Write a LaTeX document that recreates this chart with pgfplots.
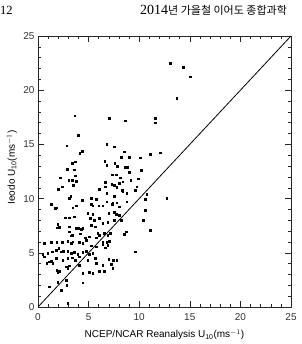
\documentclass[border=0pt]{standalone}
\usepackage{pgfplots}
\pgfplotsset{compat=1.18}
\usepackage{fontspec}
\setmainfont{Liberation Sans}
\newfontfamily\serifhdr{Liberation Serif}
\newfontfamily\kr{Noto Sans CJK KR}
\pgfplotstableread{
x y
3.62 17.65
3.95 15.87
2.83 14.88
6.79 15.02
4.12 14.18
4.38 14.39
3.69 13.41
3.39 13.25
6.59 13.48
13.04 22.48
14.36 22.11
15.02 21.25
13.70 19.25
7.05 17.41
8.60 17.19
11.59 17.41
11.59 17.00
7.51 14.79
8.50 14.33
11.07 14.12
12.06 14.24
8.20 13.80
6.79 13.10
7.58 13.25
9.02 13.80
10.08 13.78
7.84 13.00
9.02 12.42
6.79 10.49
7.30 12.20
7.70 12.20
8.63 12.88
8.83 12.88
10.21 12.64
8.10 11.93
6.65 11.52
7.28 11.34
7.51 11.25
8.04 11.40
8.37 11.56
9.16 11.71
9.91 11.83
6.62 11.10
7.77 11.04
8.30 10.79
9.75 11.10
8.37 10.63
8.76 10.48
9.58 10.79
10.74 10.42
7.54 10.20
12.71 10.03
10.57 9.93
6.79 9.71
7.38 9.56
7.77 9.62
8.76 9.72
10.60 8.95
10.41 8.03
11.07 7.10
9.62 5.10
2.87 12.73
3.59 12.67
2.17 11.93
3.03 11.72
3.36 11.72
3.66 12.12
3.75 11.62
1.98 10.89
2.37 11.10
3.49 11.26
3.06 10.03
3.23 10.24
1.28 9.47
1.68 9.10
1.84 9.16
3.43 9.16
3.75 9.35
4.35 9.87
2.70 8.24
3.10 8.24
3.59 8.33
1.94 7.63
1.88 7.32
2.10 7.38
3.10 7.41
3.75 7.26
4.02 7.26
4.25 7.20
4.41 7.26
3.10 6.95
3.36 6.64
4.18 6.76
4.68 6.40
3.23 6.58
0.63 5.87
1.28 5.97
1.84 5.97
2.37 5.97
2.93 6.09
3.26 5.87
3.43 6.03
4.08 5.97
4.41 5.87
4.74 6.17
0.46 4.86
0.96 4.95
1.38 5.10
1.78 5.26
2.04 5.41
2.27 5.10
2.50 5.17
2.93 5.17
3.26 4.95
3.59 5.04
3.92 4.86
4.41 5.04
4.74 5.17
0.63 4.64
1.12 4.18
1.28 4.24
0.86 4.03
1.45 4.03
1.78 4.49
2.44 4.33
2.93 4.49
3.36 4.55
3.69 4.33
4.08 4.64
1.84 3.41
1.94 3.20
2.10 3.32
2.77 3.72
2.93 3.56
3.10 3.81
4.08 3.87
4.41 3.10
1.12 1.87
1.94 2.27
2.77 2.48
2.83 2.03
2.31 1.57
2.93 0.34
4.41 2.24
5.24 10.03
5.73 9.97
6.06 10.89
5.24 9.47
5.40 9.35
6.00 9.35
6.39 9.35
7.31 9.47
8.04 9.26
4.91 8.64
5.40 8.55
6.98 8.64
7.54 8.73
7.71 8.55
8.04 8.49
5.14 8.18
5.57 8.03
6.06 8.18
6.39 7.72
6.88 7.81
7.54 8.03
8.20 8.03
5.24 7.57
5.67 7.41
5.90 6.80
6.06 6.64
6.55 6.80
6.88 6.64
7.11 6.80
5.07 6.49
5.73 6.40
6.39 6.03
6.79 5.97
7.05 6.09
8.53 6.70
8.70 6.95
5.24 5.66
5.73 5.56
6.39 5.78
6.65 5.47
6.88 5.72
5.07 4.86
5.40 4.95
4.91 4.33
5.67 4.49
6.98 4.43
7.44 4.33
7.77 4.33
5.73 4.03
6.39 3.87
7.21 3.93
7.38 3.56
5.07 3.20
5.40 3.10
6.06 3.32
6.55 3.32
}\pts
\begin{document}
\begin{tikzpicture}[x=1pt,y=1pt]
\node[anchor=base west,inner sep=0pt,font=\serifhdr\fontsize{12.5}{14}\selectfont] at (0,329) {12};
\node[anchor=base west,inner sep=0pt] at (140,329) {{\serifhdr\fontsize{14}{16}\selectfont 2014}{\kr\fontsize{11}{13}\selectfont 년 가을철 이어도 종합과학}};
\begin{axis}[
  at={(38pt,37pt)}, anchor=south west,
  width=253pt, height=271pt, scale only axis,
  xmin=0, xmax=25, ymin=0, ymax=25,
  xtick={0,5,...,25}, ytick={0,5,...,25},
  minor tick num=4,
  tick align=inside,
  major tick length=6pt, minor tick length=3pt,
  axis line style={line width=0.6pt, black!85},
  every tick/.style={black!85, line width=0.5pt},
  tick label style={font=\fontsize{10}{12}\selectfont, black!80},
  /pgf/number format/assume math mode=true,
  xticklabel style={yshift=-3pt},
  xlabel={NCEP/NCAR Reanalysis U$_{\mathrm{10}}$(ms$^{-1}$)},
  ylabel={Ieodo U$_{\mathrm{10}}$(ms$^{-1}$)},
  label style={font=\fontsize{9}{11}\selectfont, black!80},
  every axis x label/.style={at={(axis description cs:0.5,-0.103)},anchor=center},
  every axis y label/.style={at={(axis description cs:-0.103,0.515)},anchor=center,rotate=90},
  clip=true,
]
\addplot[only marks, mark=square*, mark size=0.85pt, black] table {\pts};
\addplot[black, line width=0.8pt, no marks] coordinates {(0,0) (25,25)};
\end{axis}
\pgfresetboundingbox
\useasboundingbox (0,0) rectangle (301,344);
\end{tikzpicture}
\end{document}
